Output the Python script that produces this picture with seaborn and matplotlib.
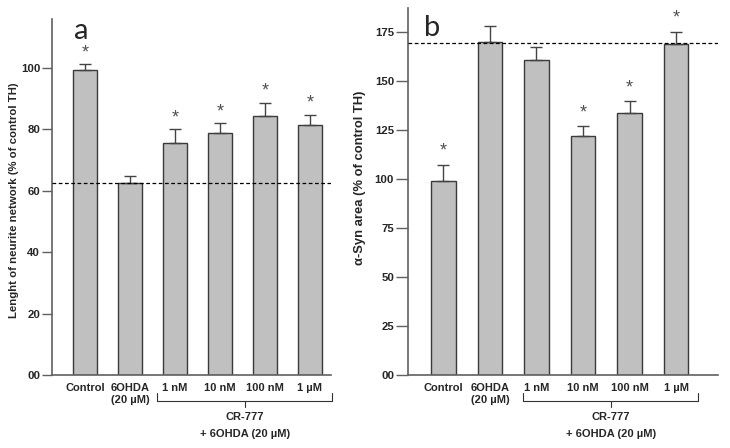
import numpy as np
import pandas as pd
import matplotlib
matplotlib.use("Agg")
import matplotlib.pyplot as plt
import seaborn as sns

# data
groups = ["Control", "6OHDA\n(20 µM)", "1 nM", "10 nM", "100 nM", "1 µM"]
neurite = [99.3, 62.7, 75.7, 78.7, 84.5, 81.6]
neurite_err = [1.9, 2.2, 4.4, 3.3, 4.2, 3.2]
neurite_star = [True, False, True, True, True, True]
syn = [98.6, 169.5, 160.7, 121.8, 133.5, 168.9]
syn_err = [8.4, 8.5, 6.5, 4.9, 5.9, 5.8]
syn_star = [True, False, False, True, True, True]

sns.set_style("ticks")
plt.rcParams['font.family'] = ['Liberation Sans', 'DejaVu Sans']

W, H = 730, 448
fig = plt.figure(figsize=(7.3, 4.48), dpi=100)
# axes boxes in pixels: left, right, top, bottom
boxes = [(52, 331, 19, 375), (408, 718, 8, 375)]
axes = []
for l, r, t, b in boxes:
    axes.append(fig.add_axes([l / W, 1 - b / H, (r - l) / W, (b - t) / H]))
ax1, ax2 = axes

bar_col = "#c0c0c0"
edge_col = "#3a3a3a"
spine_col = "#606060"
xfs = 8


def panel(ax, box, vals, errs, stars, ylim, yticks, ylabels, ylabel, ylab_fs, ylab_xy,
          ref, xlim, letter, letter_xy, star_off, tick_len, brk):
    df = pd.DataFrame({"group": groups, "value": vals})
    sns.barplot(data=df, x="group", y="value", color=bar_col, edgecolor=edge_col,
                linewidth=1.0, width=0.53, errorbar=None, ax=ax, saturation=1)
    x = np.arange(len(vals))
    ax.errorbar(x, vals, yerr=[np.zeros(len(errs)), errs], fmt="none",
                ecolor="#444444", elinewidth=1.0, capsize=4, capthick=1.0)
    for xi, v, e, s in zip(x, vals, errs, stars):
        if s:
            ax.text(xi, v + e + star_off, "*", ha="center", va="center",
                    fontsize=13, color="#505050")
    ax.axhline(ref, color="black", lw=0.9, ls=(0, (3, 2)), zorder=5)
    ax.set_ylim(*ylim)
    ax.set_xlim(*xlim)
    ax.set_yticks(yticks)
    ax.set_yticklabels(ylabels, fontweight="bold", fontsize=8.2)
    ax.set_xticks(x)
    ax.set_xticklabels(groups, fontweight="bold", fontsize=xfs)
    ax.tick_params(axis="x", length=0, pad=6)
    ax.tick_params(axis="y", length=tick_len, width=1, color=spine_col, pad=1.5)
    ax.set_xlabel("")
    ax.set_ylabel(ylabel, fontweight="bold", fontsize=ylab_fs)
    ax.yaxis.set_label_coords(*ylab_xy)
    for side in ["top", "right"]:
        ax.spines[side].set_visible(False)
    for side in ["left", "bottom"]:
        ax.spines[side].set_color(spine_col)
        ax.spines[side].set_linewidth(1.2)
    ax.text(letter_xy[0], letter_xy[1], letter, transform=ax.transAxes,
            fontsize=21, family="Lato", va="baseline", ha="left")

    # bracket under the CR-777 groups
    l, r, t, b = box
    hgt = b - t

    def fy(py):
        return -(py - b) / hgt

    trans = ax.get_xaxis_transform()
    xl, xm, xr = brk
    ax.plot([xl, xl, xr, xr], [fy(393), fy(401), fy(401), fy(393)], color="#333333",
            lw=0.8, transform=trans, clip_on=False)
    ax.plot([xm, xm], [fy(401), fy(407)], color="#333333", lw=0.8,
            transform=trans, clip_on=False)
    ax.text(xm, fy(417), "CR-777", ha="center", va="center", fontweight="bold",
            fontsize=xfs, transform=trans)
    ax.text(xm, fy(434), "+ 6OHDA (20 µM)", ha="center", va="center",
            fontweight="bold", fontsize=xfs, transform=trans)


panel(ax1, boxes[0], neurite, neurite_err, neurite_star, (0, 116),
      [0, 20, 40, 60, 80, 100], ["00", "20", "40", "60", "80", "100"],
      "Lenght of neurite network (% of control TH)", 8.2, (-0.118, 0.49),
      62.7, (-0.73, 5.47), "a", (0.079, 0.944), 3.7, 7, (1.6, 3.55, 5.49))
panel(ax2, boxes[1], syn, syn_err, syn_star, (0, 187),
      [0, 25, 50, 75, 100, 125, 150, 175],
      ["00", "25", "50", "75", "100", "125", "150", "175"],
      "α-Syn area (% of control TH)", 9.4, (-0.135, 0.537),
      169.2, (-0.76, 5.9), "b", (0.052, 0.924), 7, 8.5, (1.71, 3.6, 5.47))

fig.savefig("out.png", dpi=100)
